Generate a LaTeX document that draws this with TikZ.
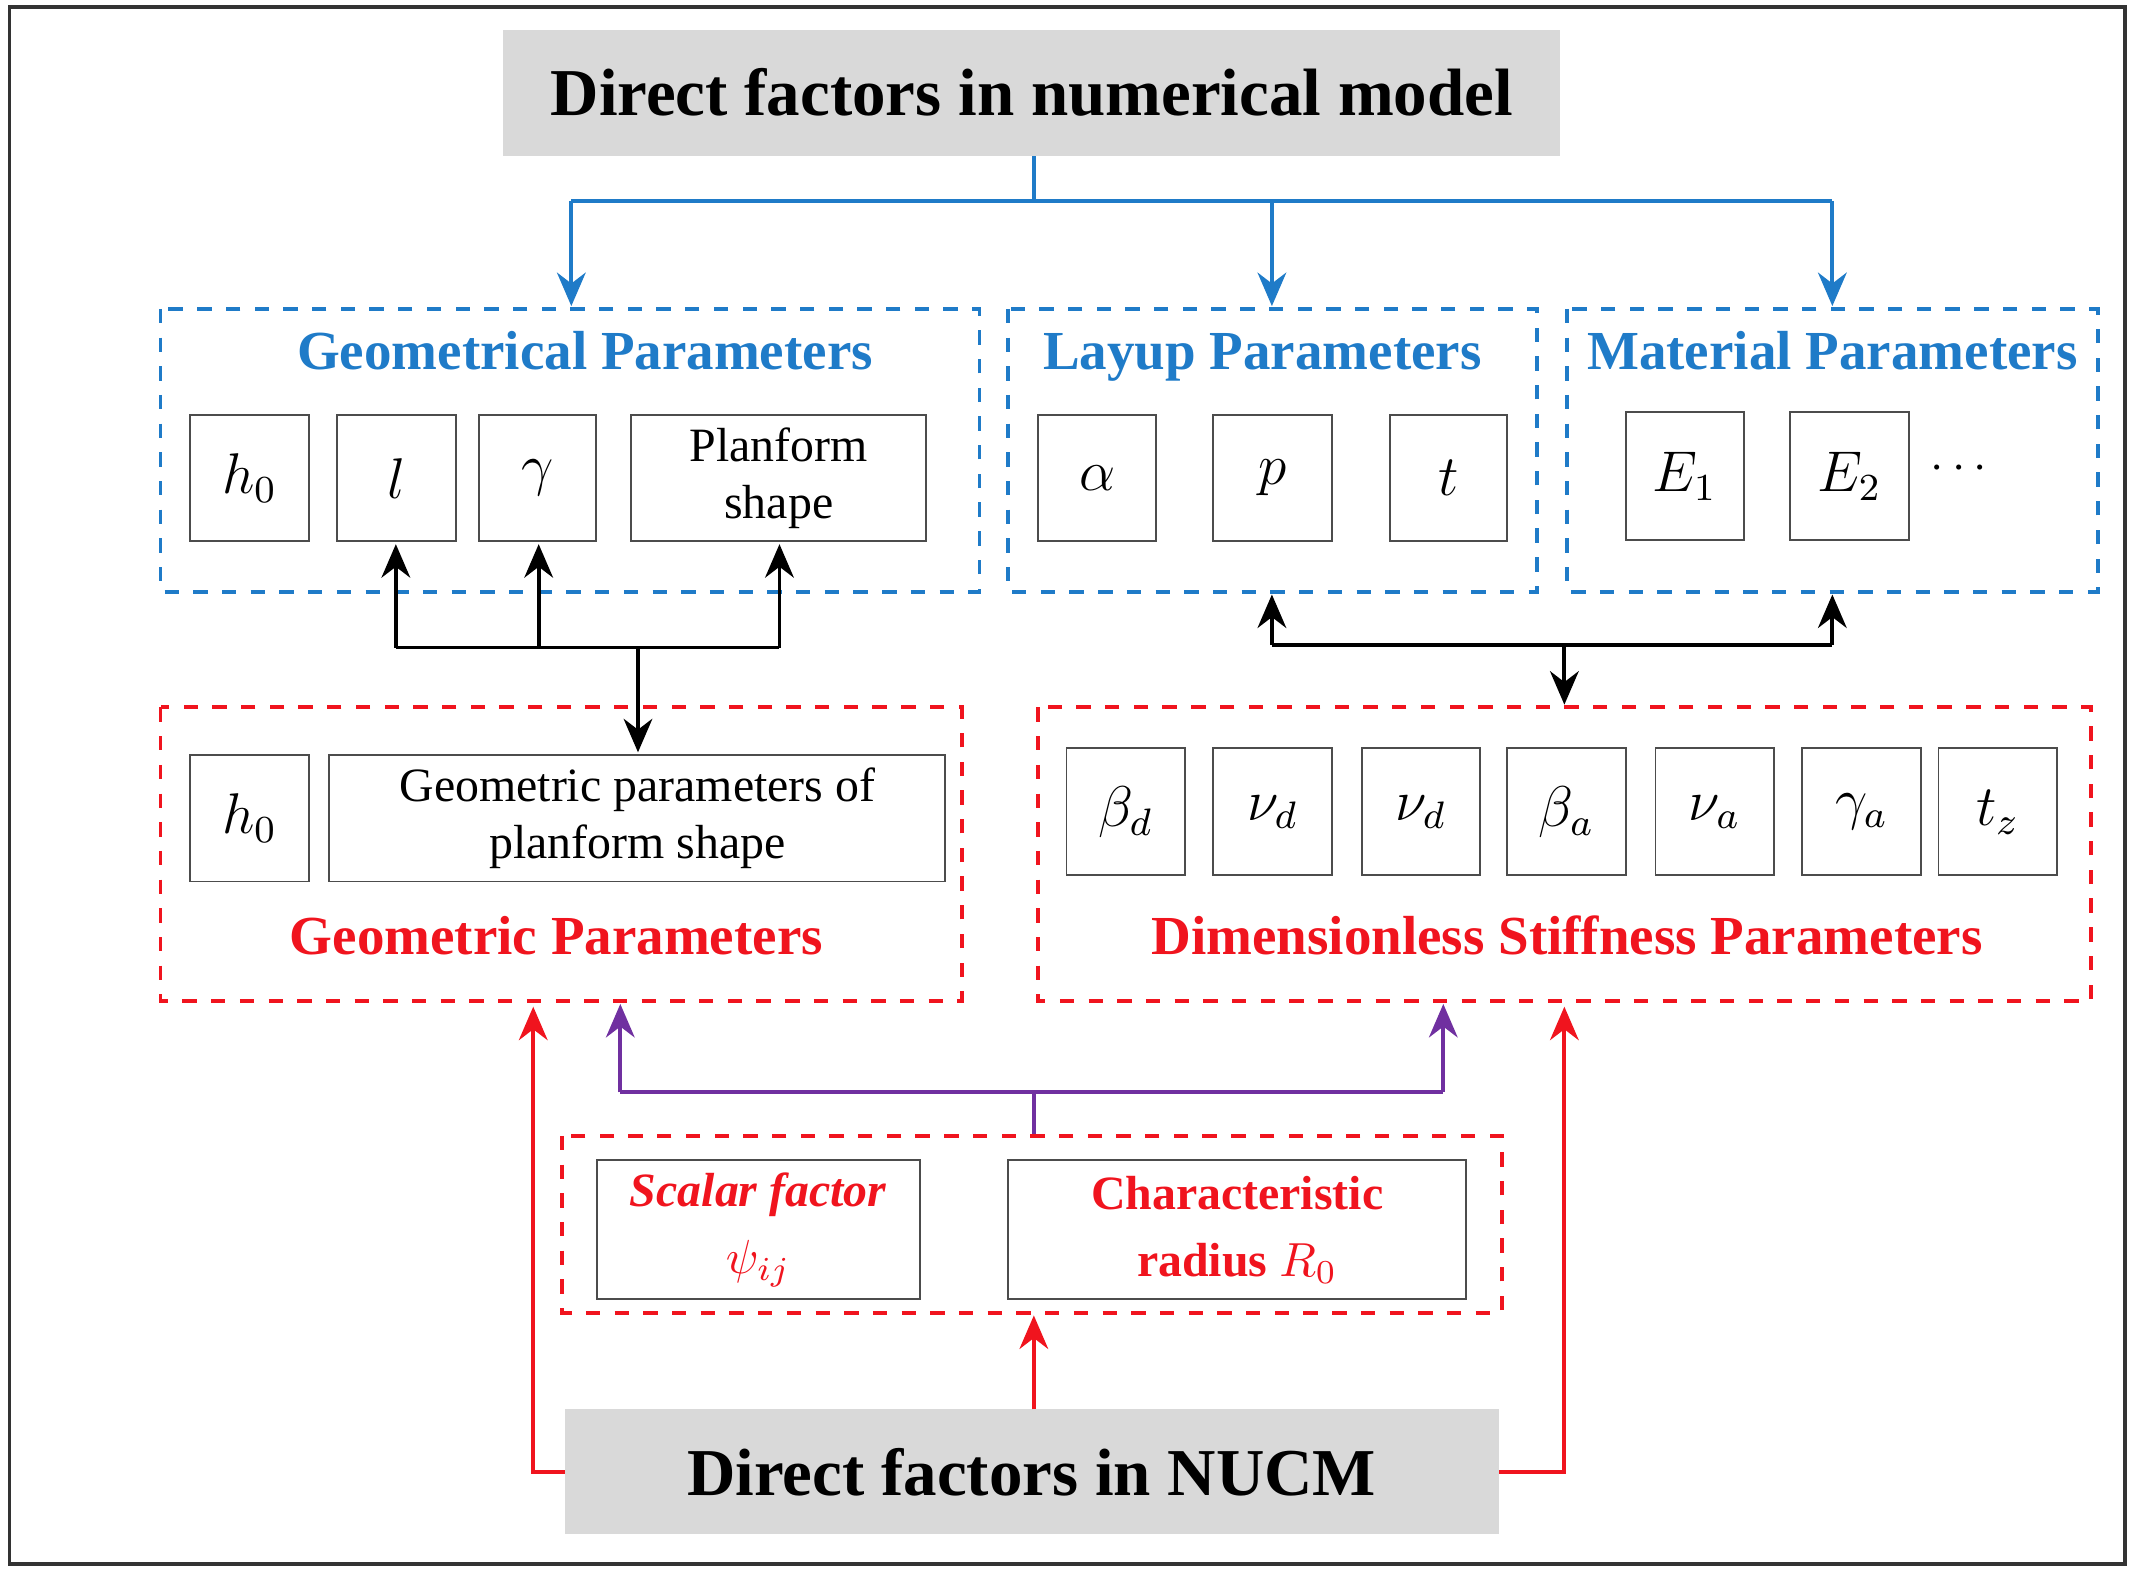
\documentclass[tikz,border=0pt]{standalone}
\usepackage{fontspec}
\setmainfont{Liberation Serif}
\usetikzlibrary{arrows.meta}
\definecolor{bl}{HTML}{1F7BC8}
\definecolor{rd}{HTML}{F0141E}
\definecolor{pu}{HTML}{7030A0}
\begin{document}
\begin{tikzpicture}[x=0.01cm,y=-0.01cm,
  bdash/.style={draw=bl,dashed,line width=0.8pt},
  rdash/.style={draw=rd,dashed,line width=0.8pt},
  arr/.style={-{Stealth[length=7pt,width=6pt]},line width=0.8pt},
  btitle/.style={text=bl,font=\fontsize{11.5}{13}\selectfont\bfseries,text height=8pt,text depth=2.5pt},
  rtitle/.style={text=rd,font=\fontsize{11.5}{13}\selectfont\bfseries,text height=8pt,text depth=2.5pt},
  mtxt/.style={font=\fontsize{12}{14}\selectfont},
  stxt/.style={font=\fontsize{10}{12}\selectfont}]
\useasboundingbox (0,0) rectangle (1568,1156);
\draw[line width=0.8pt,black!80] (7,5) rectangle (1562,1150);
% title
\fill[black!15] (370,22) rectangle (1147,115);
\node[font=\fontsize{14}{16}\selectfont\bfseries] (topt) at (758.5,68) {Direct factors in numerical model};
\coordinate (tb) at (760,115);
% blue boxes
\draw[bdash] (118,227) rectangle (720,435);
\draw[bdash] (741,227) rectangle (1130,435);
\draw[bdash] (1152,227) rectangle (1542,435);
\node[btitle] (g1) at (430,262) {Geometrical Parameters};
\node[btitle] (g2) at (928,262) {Layup Parameters};
\node[btitle] (g3) at (1347,262) {Material Parameters};
\coordinate (a1) at (420,225); \coordinate (a2) at (935,225); \coordinate (a3) at (1347,225);
\draw[bl,line width=0.8pt] (tb) -- (760,148) -- (420,148) (760,148) -- (1347,148);
\draw[arr,bl] (420,148) -- (a1);
\draw[arr,bl] (935,148) -- (a2);
\draw[arr,bl] (1347,148) -- (a3);
% inner blue
\draw[black!70] (140,305) rectangle (227,398) (248,305) rectangle (335,398) (352,305) rectangle (438,398) (464,305) rectangle (681,398);
\node[mtxt] (nh0) at (183.5,351.5) {$h_0$};
\node[mtxt] (nl) at (291.5,351.5) {$l$};
\node[mtxt] (ng) at (395,351.5) {$\gamma$};
\node[stxt,align=center] (npl) at (572.5,351.5) {Planform\\shape};
\draw[black!70] (763,305) rectangle (850,398) (892,305) rectangle (979,398) (1022,305) rectangle (1108,398) (1195,303) rectangle (1282,397) (1316,303) rectangle (1403,397);
\node[mtxt] (na) at (806.5,351.5) {$\alpha$};
\node[mtxt] (np) at (935.5,351.5) {$p$};
\node[mtxt] (nt) at (1065,351.5) {$t$};
\node[mtxt] (ne1) at (1238.5,350) {$E_1$};
\node[mtxt] (ne2) at (1359.5,350) {$E_2$};
\node[stxt] (dots) at (1440,345) {$\cdots$};
% black arrows
\coordinate (l1) at (291,400); \coordinate (l2) at (396,400); \coordinate (l3) at (573,400);
\draw[line width=0.8pt] (291,476) -- (573,476);
\draw[arr] (291,476) -- (l1);
\draw[arr] (396,476) -- (l2);
\draw[arr] (573,476) -- (l3);
\coordinate (d1) at (469,553);
\draw[arr] (469,476) -- (d1);
\coordinate (r1) at (935,437); \coordinate (r2) at (1347,437);
\draw[line width=0.8pt] (935,474) -- (1347,474);
\draw[arr] (935,474) -- (r1);
\draw[arr] (1347,474) -- (r2);
\coordinate (d2) at (1150,518);
\draw[arr] (1150,474) -- (d2);
% red boxes
\draw[rdash] (118,520) rectangle (707,736);
\draw[rdash] (763,520) rectangle (1537,736);
\draw[black!70] (140,555) rectangle (227,648) (242,555) rectangle (695,648);
\node[mtxt] (m0) at (183.5,601.5) {$h_0$};
\node[stxt,align=center] (mg) at (468.5,601.5) {Geometric parameters of\\planform shape};
\foreach \x in {784,892,1001,1108,1217,1325,1425}{\draw[black!70] (\x,550) rectangle (\x+87,643);}
\node[mtxt] (s1) at (827.5,597) {$\beta_d$};
\node[mtxt] (s2) at (935.5,597) {$\nu_d$};
\node[mtxt] (s3) at (1044.5,597) {$\nu_d$};
\node[mtxt] (s4) at (1151.5,597) {$\beta_a$};
\node[mtxt] (s5) at (1260.5,597) {$\nu_a$};
\node[mtxt] (s6) at (1368.5,597) {$\gamma_a$};
\node[mtxt] (s7) at (1468.5,597) {$t_z$};
\node[rtitle] (rt1) at (409,692) {Geometric Parameters};
\node[rtitle] (rt2) at (1152,692) {Dimensionless Stiffness Parameters};
% purple
\coordinate (p1) at (456,738); \coordinate (p2) at (1061,738);
\draw[pu,line width=0.8pt] (760,835) -- (760,803) (456,803) -- (1061,803);
\draw[arr,pu] (456,803) -- (p1);
\draw[arr,pu] (1061,803) -- (p2);
% lower red box
\draw[rdash] (413,835) rectangle (1104,965);
\draw[black!70] (439,853) rectangle (676,955) (741,853) rectangle (1078,955);
\node[stxt,text=rd,align=center] (sf) at (557.5,904) {\textbf{\textit{Scalar factor}}\\[2pt]$\psi_{ij}$};
\node[stxt,text=rd,align=center] (cr) at (909.5,904) {\textbf{Characteristic}\\[2pt]\textbf{radius} $R_0$};
% bottom
\fill[black!15] (415,1036) rectangle (1102,1128);
\node[font=\fontsize{14}{16}\selectfont\bfseries] (bot) at (758.5,1082) {Direct factors in NUCM};
\coordinate (c1) at (760,967); \coordinate (c2) at (392,740); \coordinate (c3) at (1150,740);
\draw[arr,rd] (760,1036) -- (c1);
\draw[arr,rd] (415,1082) -- (392,1082) -- (c2);
\draw[arr,rd] (1102,1082) -- (1150,1082) -- (c3);
\end{tikzpicture}
\end{document}
